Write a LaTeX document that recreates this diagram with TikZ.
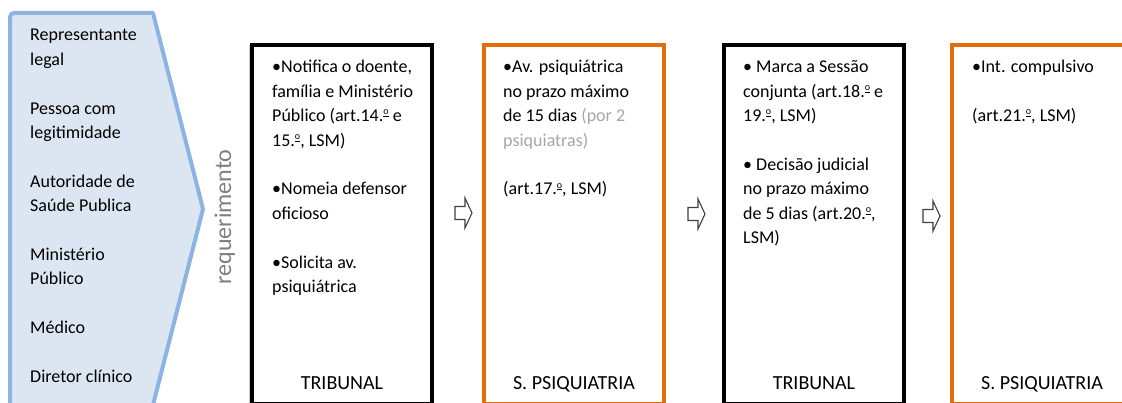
\documentclass[tikz,border=0pt]{standalone}
\usepackage{fontspec}
\setmainfont{Carlito}
\definecolor{chevfill}{HTML}{DCE6F2}
\definecolor{chevline}{HTML}{8DB3E2}
\definecolor{orangeline}{HTML}{E46C0A}
\definecolor{graytext}{HTML}{A6A6A6}
\definecolor{reqgray}{HTML}{7F7F7F}
\definecolor{sepline}{HTML}{C8C8C8}
\definecolor{arrowline}{HTML}{404040}
\newcommand\myord{\raisebox{0.8ex}{\fontsize{10}{10}\selectfont\underline{o}}}
\tikzset{
  txt/.style={anchor=base west, inner sep=0pt, font=\fontsize{18}{24.4}\selectfont, text=black},
  lbl/.style={anchor=base, inner sep=0pt, font=\fontsize{20}{24.4}\selectfont, text=black},
  blackbox/.style={draw=black, line width=4pt, fill=white, anchor=north west, inner sep=0pt, outer sep=0pt, minimum width=180pt, minimum height=359pt},
  orangebox/.style={draw=orangeline, line width=4pt, fill=white, anchor=north west, inner sep=0pt, outer sep=0pt, minimum width=180pt, minimum height=359pt},
  chevron/.style={draw=chevline, fill=chevfill, line width=4pt, line join=round},
  blockarrow/.style={draw=arrowline, fill=white, line width=1.1pt, line join=miter},
  hollowarrow/.pic={\draw[blockarrow] (0,-6.5) -- (10,-6.5) -- (10,-15) -- (17,0) -- (10,15) -- (10,6.5) -- (0,6.5) -- cycle;}
}
\begin{document}
\begin{tikzpicture}[x=1pt,y=-1pt]
\useasboundingbox (0,0) rectangle (1122,403);
\clip (0,0) rectangle (1122,403);
\fill[white] (0,0) rectangle (1122,403);

% left chevron
\draw[chevron] (10,430) [rounded corners=4pt]-- (10,13) [sharp corners]-- (153,13) -- (203,209) -- (153,405) -- (153,430);
\foreach \k/\t [count=\i] in {0/Representante, 1/legal, 3/Pessoa com, 4/legitimidade, 6/Autoridade de, 7/Saúde Publica, 9/Ministério, 10/Público, 12/Médico, 14/Diretor clínico}
  \node[txt] (lp\i) at (30, 41+24.4*\k) {\t};

\node[rotate=90, anchor=base, inner sep=0pt, font=\fontsize{24}{28}\selectfont, text=reqgray] (req) at (231,217) {requerimento};
\coordinate (septop) at (249,45);
\coordinate (sepbot) at (249,403);
\draw[sepline, line width=0.8pt] (septop) -- (sepbot);

% boxes
\node[blackbox] (b1) at (252,45) {};
\node[orangebox] (b2) at (484,45) {};
\node[blackbox] (b3) at (724,45) {};
\node[orangebox] (b4) at (952,45) {};

% box 1 text
\foreach \k/\t [count=\i] in {0/{•Notifica o doente,}, 1/{família e Ministério}, 2/{Público (art.14.\myord{} e}, 3/{15.\myord, LSM)}, 5/{•Nomeia defensor}, 6/{oficioso}, 8/{•Solicita av.}, 9/{psiquiátrica}}
  \node[txt] (t1\i) at (272, 73+24.4*\k) {\t};

% box 2 text
\foreach \k/\t [count=\i] in {0/{•Av. psiquiátrica}, 1/{no prazo máximo}, 2/{de 15 dias \textcolor{graytext}{(por 2}}, 3/{\textcolor{graytext}{psiquiatras)}}, 5/{(art.17.\myord, LSM)}}
  \node[txt] (t2\i) at (503, 73+24.4*\k) {\t};

% box 3 text
\foreach \k/\t [count=\i] in {0/{• Marca a Sessão}, 1/{conjunta (art.18.\myord{} e}, 2/{19.\myord, LSM)}, 4/{• Decisão judicial}, 5/{no prazo máximo}, 6/{de 5 dias (art.20.\myord,}, 7/{LSM)}}
  \node[txt] (t3\i) at (743, 73+24.4*\k) {\t};

% box 4 text
\foreach \k/\t [count=\i] in {0/{•Int. compulsivo}, 2/{(art.21.\myord, LSM)}}
  \node[txt] (t4\i) at (972, 73+24.4*\k) {\t};

% bottom labels
\coordinate (labbase) at (0,389.5);
\node[lbl] (l1) at (b1.center |- labbase) {TRIBUNAL};
\node[lbl] (l2) at (b2.center |- labbase) {S. PSIQUIATRIA};
\node[lbl] (l3) at (b3.center |- labbase) {TRIBUNAL};
\node[lbl] (l4) at (b4.center |- labbase) {S. PSIQUIATRIA};

% hollow arrows
\pic at (455,213) {hollowarrow};
\pic at (688,214) {hollowarrow};
\pic at (923,216) {hollowarrow};
\end{tikzpicture}
\end{document}
